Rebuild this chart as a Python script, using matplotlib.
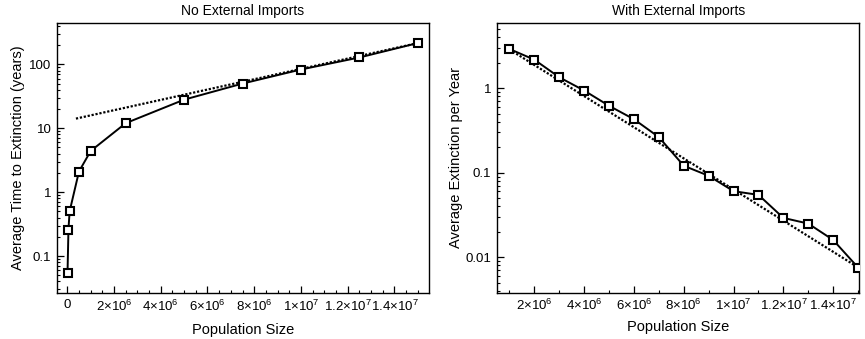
import numpy as np
import matplotlib.pyplot as plt
from matplotlib.ticker import FixedLocator, LogLocator, NullFormatter, FuncFormatter

plt.rcParams["font.family"] = ["Liberation Sans", "DejaVu Sans"]
plt.rcParams["mathtext.fontset"] = "custom"
plt.rcParams["mathtext.rm"] = "Liberation Sans"
plt.rcParams["mathtext.it"] = "Liberation Sans"

# no external imports: time to extinction (years)
pop_a = [1e4, 5e4, 1e5, 5e5, 1e6, 2.5e6, 5e6, 7.5e6, 1e7, 1.25e7, 1.5e7]
time_a = [0.054, 0.26, 0.5, 2.1, 4.4, 12.0, 28.0, 50.0, 83.0, 128.0, 215.0]
fit_a = (13.2, 1.86e-7)   # y = c * exp(k * x)
fit_a_range = (0.37e6, 1.5e7)

# with external imports: extinctions per year
pop_b = [1e6, 2e6, 3e6, 4e6, 5e6, 6e6, 7e6, 8e6, 9e6, 1e7, 1.1e7, 1.2e7, 1.3e7, 1.4e7, 1.5e7]
rate_b = [2.92, 2.18, 1.35, 0.94, 0.62, 0.43, 0.264, 0.121, 0.092, 0.0605,
          0.0547, 0.0292, 0.025, 0.016, 0.00755]
fit_b = (4.41, -4.244e-7)
fit_b_range = (1e6, 1.5e7)


def sci_label(v, pos):
    if v == 0:
        return "0"
    exp = int(np.floor(np.log10(abs(v)) + 1e-9))
    mant = v / 10 ** exp
    m = ("%.1f" % mant).rstrip("0").rstrip(".")
    return r"$%s{\times}10^{%d}$" % (m, exp)


def y_label(v, pos):
    return ("%g" % v)


def style(ax):
    for s in ax.spines.values():
        s.set_linewidth(1.0)
    ax.tick_params(which="both", direction="in", top=False, right=False,
                   labelsize=9.5, pad=4)
    ax.tick_params(which="major", length=5, width=0.9)
    ax.tick_params(which="minor", length=2.5, width=0.8)
    ax.yaxis.set_major_formatter(FuncFormatter(y_label))
    ax.yaxis.set_minor_locator(LogLocator(base=10, subs=np.arange(2, 10)))
    ax.yaxis.set_minor_formatter(NullFormatter())
    ax.xaxis.set_major_formatter(FuncFormatter(sci_label))


fig = plt.figure(figsize=(8.65, 3.39), dpi=100)
ax1 = fig.add_axes([0.0659, 0.1357, 0.430, 0.796])
ax2 = fig.add_axes([0.5746, 0.1366, 0.4188, 0.795])

line_kw = dict(color="black", lw=1.4, marker="s", markersize=6.3,
               markerfacecolor="white", markeredgecolor="black",
               markeredgewidth=1.5, zorder=3)
dot_kw = dict(color="black", lw=1.6, linestyle=(0, (1.0, 0.8)), zorder=2)

# left panel
xf = np.linspace(*fit_a_range, 100)
ax1.plot(xf, fit_a[0] * np.exp(fit_a[1] * xf), **dot_kw)
ax1.plot(pop_a, time_a, **line_kw)
ax1.set_yscale("log")
ax1.set_xlim(-0.44e6, 15.48e6)
ax1.set_ylim(0.0264, 441)
ax1.xaxis.set_major_locator(FixedLocator([0, 2e6, 4e6, 6e6, 8e6, 1e7, 1.2e7, 1.4e7]))
ax1.xaxis.set_minor_locator(FixedLocator(np.arange(0, 15.5e6, 0.5e6)))
style(ax1)
ax1.set_title("No External Imports", fontsize=10, pad=6)
ax1.set_xlabel("Population Size", fontsize=10.5, labelpad=7)
ax1.set_ylabel("Average Time to Extinction (years)", fontsize=10.5, labelpad=3)

# right panel
xf = np.linspace(*fit_b_range, 100)
ax2.plot(xf, fit_b[0] * np.exp(fit_b[1] * xf), **dot_kw)
ax2.plot(pop_b, rate_b, **line_kw)
ax2.set_yscale("log")
ax2.set_xlim(0.5e6, 15.05e6)
ax2.set_ylim(0.0038, 5.9)
ax2.xaxis.set_major_locator(FixedLocator([2e6, 4e6, 6e6, 8e6, 1e7, 1.2e7, 1.4e7]))
ax2.xaxis.set_minor_locator(FixedLocator(np.arange(1e6, 15.5e6, 1e6)))
style(ax2)
ax2.set_title("With External Imports", fontsize=10, pad=6)
ax2.set_xlabel("Population Size", fontsize=10.5, labelpad=5)
ax2.set_ylabel("Average Extinction per Year", fontsize=10.5, labelpad=2)

fig.savefig("out.png", dpi=100)
